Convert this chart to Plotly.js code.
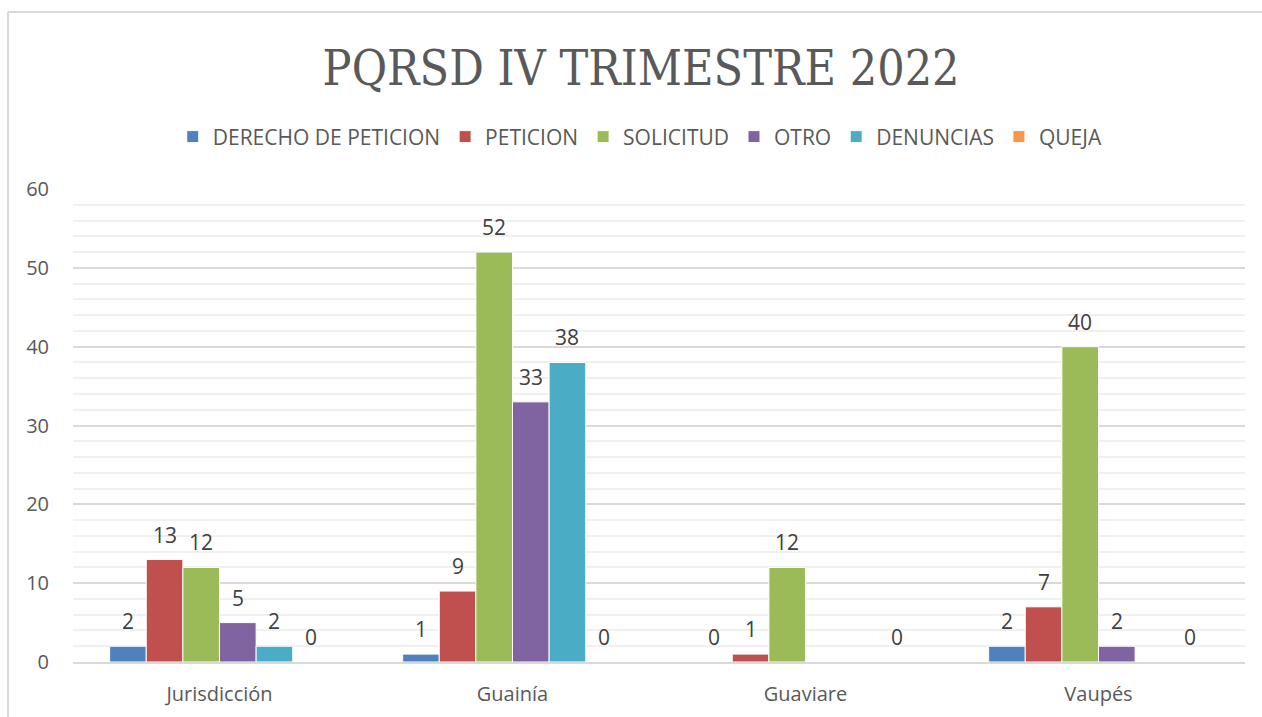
<!DOCTYPE html>
<html>
<head>
<meta charset="utf-8">
<script src="https://cdn.plot.ly/plotly-3.0.1.min.js"></script>
<style>html,body{margin:0;padding:0;background:#fff;}#chart{width:1262px;height:717px;}</style>
</head>
<body>
<div id="chart"></div>
<script>
const categories = ["Jurisdicción", "Guainía", "Guaviare", "Vaupés"];
const seriesNames = ["DERECHO DE PETICION", "PETICION", "SOLICITUD", "OTRO", "DENUNCIAS", "QUEJA"];
const derechoPeticion = [2, 1, 0, 2];
const peticion = [13, 9, 1, 7];
const solicitud = [12, 52, 12, 40];
const otro = [5, 33, null, 2];
const denuncias = [2, 38, null, null];
const queja = [0, 0, 0, 0];
const seriesValues = [derechoPeticion, peticion, solicitud, otro, denuncias, queja];
const seriesColors = ["#4F81BD", "#C0504D", "#9BBB59", "#8064A2", "#4BACC6", "#F79646"];

const font = "Open Sans, Lato, sans-serif";
const W = 1262, H = 717;
const margin = {l: 73, r: 17, t: 189, b: 55};
const bargap = 0.25;

const traces = seriesNames.map((name, i) => ({
  type: "bar",
  name: name,
  x: categories,
  y: seriesValues[i],
  marker: {color: seriesColors[i], line: {color: "#ffffff", width: 1}},
  hoverinfo: "x+y+name"
}));

// data labels placed above each bar through the axes
const plotW = W - margin.l - margin.r;
const barPx = plotW / categories.length * (1 - bargap) / seriesNames.length;
const annotations = [];
seriesValues.forEach((vals, i) => {
  vals.forEach((v, j) => {
    if (v === null) return;
    annotations.push({
      x: categories[j], y: v, xref: "x", yref: "y",
      text: String(v), showarrow: false,
      xanchor: "center", yanchor: "bottom",
      xshift: (i - (seriesNames.length - 1) / 2) * barPx,
      yshift: 9,
      font: {family: font, size: 21, color: "#404040"}
    });
  });
});

const layout = {
  width: W,
  height: H,
  margin: margin,
  paper_bgcolor: "#ffffff",
  plot_bgcolor: "#ffffff",
  barmode: "group",
  bargap: bargap,
  bargroupgap: 0,
  showlegend: true,
  title: {
    text: "PQRSD IV TRIMESTRE 2022",
    font: {family: "DejaVu Serif Condensed, DejaVu Serif, serif", size: 48, color: "#595959"},
    x: 0.508, xref: "container", xanchor: "center",
    y: 0.905, yref: "container", yanchor: "middle"
  },
  legend: {
    orientation: "h",
    x: 0.484, xanchor: "center",
    y: 1.11, yanchor: "middle",
    font: {family: font, size: 21, color: "#595959"},
    itemclick: false
  },
  xaxis: {
    type: "category",
    tickfont: {family: font, size: 20, color: "#595959"},
    showgrid: false,
    showline: true,
    linecolor: "#d9d9d9",
    linewidth: 2,
    ticks: "",
    ticklabelstandoff: 13
  },
  yaxis: {
    range: [0, 60],
    dtick: 10,
    tick0: 0,
    showline: false,
    gridcolor: "#d9d9d9",
    gridwidth: 2,
    zeroline: false,
    tickfont: {family: font, size: 20, color: "#595959"},
    ticklabelstandoff: 23,
    minor: {dtick: 2, showgrid: true, gridcolor: "#f0f0f0", gridwidth: 2}
  },
  annotations: annotations,
  shapes: [
    {type: "line", xref: "paper", yref: "paper", x0: -0.0555, x1: 1.1, y0: 1.374, y1: 1.374, line: {color: "#d9d9d9", width: 2}},
    {type: "line", xref: "paper", yref: "paper", x0: -0.0555, x1: -0.0555, y0: 1.374, y1: -0.2, line: {color: "#d9d9d9", width: 2}}
  ]
};

Plotly.newPlot("chart", traces, layout, {displayModeBar: false, staticPlot: true});
</script>
</body>
</html>
